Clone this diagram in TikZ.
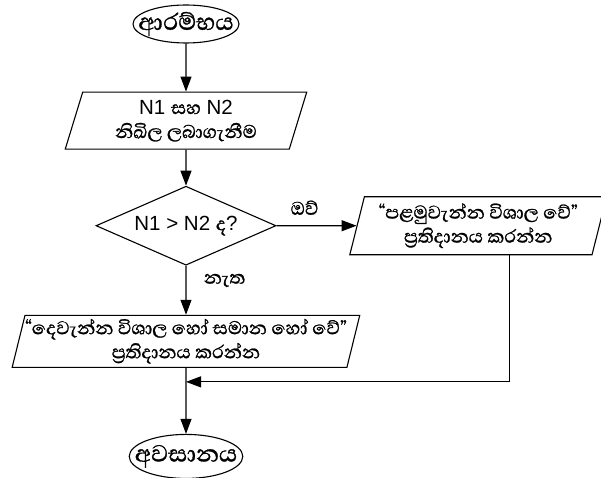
\documentclass[tikz,border=0pt]{standalone}
\usepackage{fontspec}
\setmainfont{Liberation Sans}
\newfontfamily\sinhalafont[Script=Sinhala, Scale=1.15, FakeBold=1]{Abhaya Libre}
\newcommand{\lk}[1]{{\sinhalafont #1}}
\usepackage{tikz}
\usetikzlibrary{shapes.geometric, arrows.meta, positioning, calc}

\begin{document}
\begin{tikzpicture}[x=1pt, y=1pt, node distance=40pt,
        terminal/.style={ellipse, draw, line width=1.1pt, inner xsep=-11pt, inner ysep=-2pt, minimum width=106pt, minimum height=38pt, font=\fontsize{26}{28}\selectfont},
        io/.style={trapezium, trapezium left angle=74, trapezium right angle=106, trapezium stretches=true, draw, line width=1.1pt, inner sep=0pt, align=center, font=\fontsize{20.5}{24}\selectfont},
        decision/.style={diamond, aspect=2.3, draw, line width=1.1pt, inner sep=0pt, minimum width=180pt, minimum height=79pt, font=\fontsize{20.5}{24}\selectfont},
        answer/.style={font=\fontsize{20.5}{24}\selectfont},
        line/.style={draw, line width=1.1pt, -{Triangle[length=15pt, width=11pt]}}]
        \useasboundingbox (0,0) rectangle (601,-478);

        \node [terminal] (start) at (186,-24) {\lk{ආරම්භය}};
        \node [io, minimum width=242pt, minimum height=57pt, below=48pt of start] (input) {N1 \lk{සහ} N2\\\lk{නිඛිල ලබාගැනීම}};
        \node [decision, below=36pt of input] (test) {N1 > N2 \lk{ද}?};
        \node [io, minimum width=257pt, minimum height=58pt, right=80pt of test] (first) {\lk{“පළමුවැන්න විශාල වේ”}\\\lk{ප්^^^^200dරතිදානය කරන්න}};
        \node [io, minimum width=347pt, minimum height=52pt, below=49pt of test] (second) {\lk{“දෙවැන්න විශාල හෝ සමාන හෝ වේ”}\\\lk{ප්^^^^200dරතිදානය කරන්න}};
        \coordinate [below=14pt of second] (merge);
        \node [terminal, minimum width=104pt, minimum height=44pt, below=66pt of second] (end) {\lk{අවසානය}};
        \coordinate (firstout) at ($(first.bottom left corner)!0.66!(first.bottom right corner)$);

        \path [line] (start) -- (input);
        \path [line] (input) -- (test);
        \path [line] (test) -- node [answer, above=7pt, pos=0.35] {\lk{ඔව්}} (first);
        \path [line] (test) -- node [answer, right=14pt, pos=0.3] {\lk{නැත}} (second);
        \path [line] (firstout) |- (merge);
        \path [line] (second) -- (end);
    \end{tikzpicture}
\end{document}
